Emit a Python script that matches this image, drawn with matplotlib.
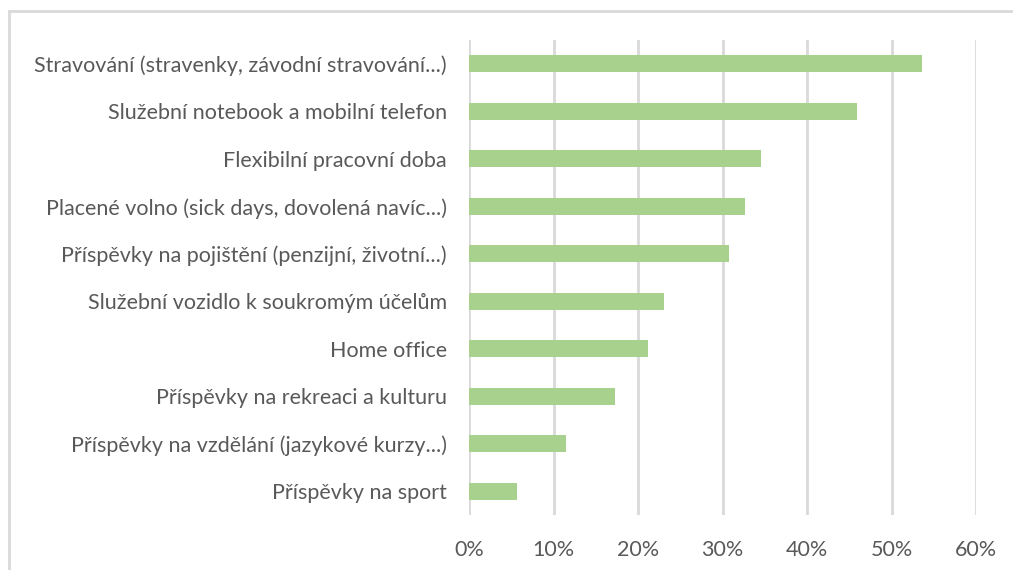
import matplotlib.pyplot as plt
from matplotlib.patches import Rectangle
from matplotlib.ticker import PercentFormatter

plt.rcParams['font.family'] = ['Lato', 'DejaVu Sans']

# %% data (share of respondents, %)
labels = [
    'Stravování (stravenky, závodní stravování...)',
    'Služební notebook a mobilní telefon',
    'Flexibilní pracovní doba',
    'Placené volno (sick days, dovolená navíc...)',
    'Příspěvky na pojištění (penzijní, životní...)',
    'Služební vozidlo k soukromým účelům',
    'Home office',
    'Příspěvky na rekreaci a kulturu',
    'Příspěvky na vzdělání (jazykové kurzy...)',
    'Příspěvky na sport',
]
values = [53.6, 45.9, 34.6, 32.7, 30.8, 23.1, 21.2, 17.3, 11.5, 5.7]
ticks = [0, 10, 20, 30, 40, 50, 60]

# %% plot
fig = plt.figure(figsize=(10.13, 5.70), dpi=100)
ax = fig.add_axes([469 / 1013, 1 - 515 / 570, 507 / 1013, 475 / 570])

pos = list(range(len(labels)))[::-1]
ax.barh(pos, values, height=0.36, color='#a9d18e', zorder=3)

ax.set_xlim(0, 60)
ax.set_ylim(-0.5, len(labels) - 0.5)
ax.set_xticks(ticks)
ax.xaxis.set_major_formatter(PercentFormatter(decimals=0))
ax.set_yticks(pos)
ax.set_yticklabels(labels)
ax.grid(axis='x', color='#d9d9d9', linewidth=2, zorder=0)
for s in ax.spines.values():
    s.set_visible(False)
ax.tick_params(length=0, labelsize=15.5, colors='#595959')
ax.tick_params(axis='y', pad=16)
ax.tick_params(axis='x', pad=18)

# chart frame, running off the right and bottom edges
fig.patches.append(Rectangle((9 / 1013, -0.1), 1.2, 1 - 11 / 570 + 0.1,
                             transform=fig.transFigure, fill=False,
                             edgecolor='#d9d9d9', linewidth=2))

fig.savefig('out.png', dpi=100)
